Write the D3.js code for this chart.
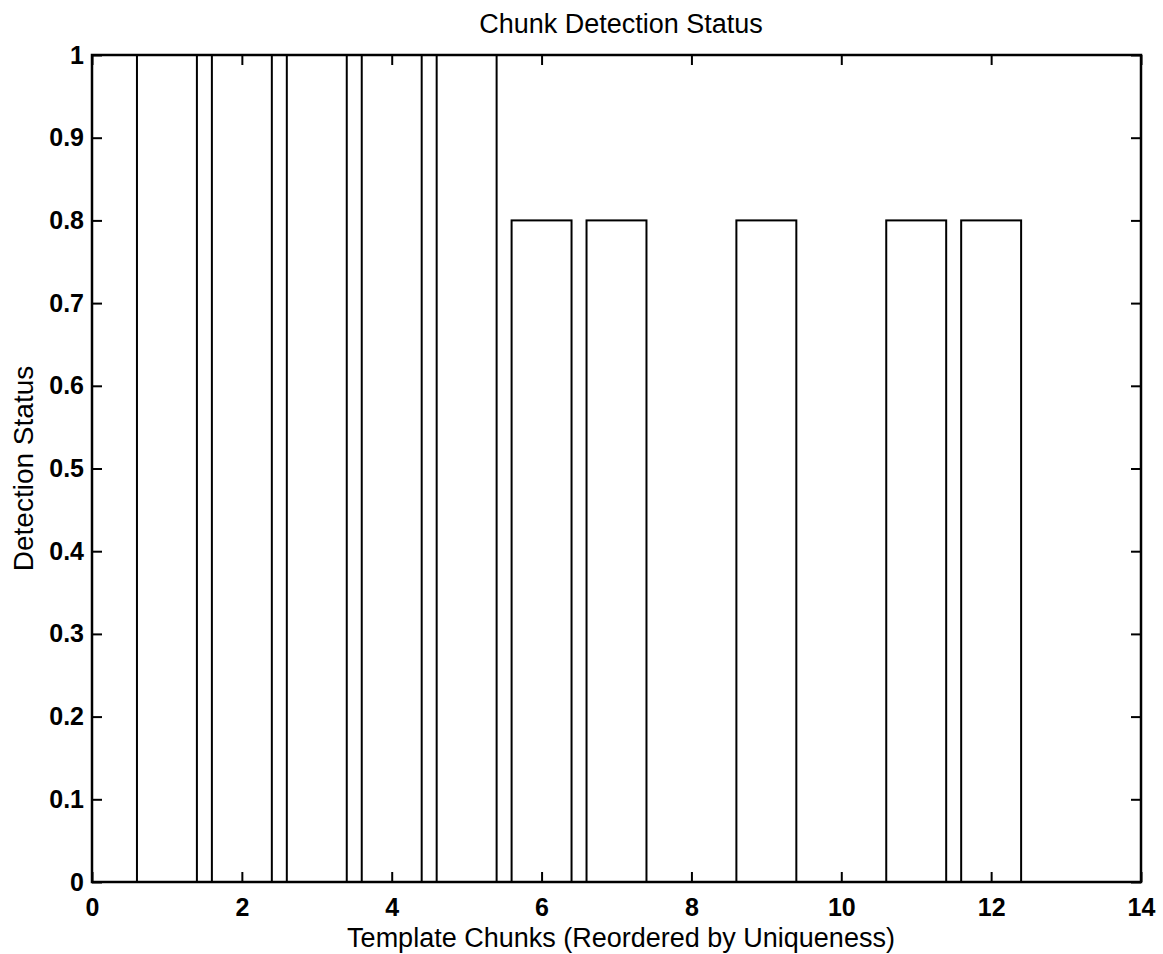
<!DOCTYPE html>
<html><head><meta charset="utf-8">
<script src="https://cdn.jsdelivr.net/npm/d3@7"></script>
<style>body{margin:0;background:#fff}svg{display:block}text{font-family:"Liberation Sans",Arial,sans-serif;fill:#000}</style>
</head><body>
<script>
const categories = [1,2,3,4,5,6,7,8,9,10,11,12];
const values = [1,1,1,1,1,0.8,0.8,0,0.8,0,0.8,0.8];
const xTicks = [0,2,4,6,8,10,12,14];
const yTicks = [0,0.1,0.2,0.3,0.4,0.5,0.6,0.7,0.8,0.9,1];
const barWidth = 0.8;

const W=1163,H=954;
const L=92,R=1141,T=55,B=882;
const svg=d3.select("body").append("svg").attr("width",W).attr("height",H);
const x=d3.scaleLinear().domain([0,14]).range([L,R]);
const y=d3.scaleLinear().domain([0,1]).range([B,T]);

svg.append("g").selectAll("rect").data(categories).join("rect")
  .attr("x",(d)=>x(d-barWidth/2)).attr("width",(d)=>x(d+barWidth/2)-x(d-barWidth/2))
  .attr("y",(d,i)=>y(values[i])).attr("height",(d,i)=>y(0)-y(values[i]))
  .attr("fill","#fff").attr("stroke","#000").attr("stroke-width",2);

const tl=10;
const fmt=d=>d===0?"0":(d===1?"1":d3.format(".1f")(d));
const gx=svg.append("g").attr("transform",`translate(0,${B})`).call(d3.axisBottom(x).tickValues(xTicks).tickSize(-tl).tickPadding(16).tickFormat(d3.format("d")));
const gxt=svg.append("g").attr("transform",`translate(0,${T})`).call(d3.axisTop(x).tickValues(xTicks).tickSize(-tl).tickFormat(""));
const gy=svg.append("g").attr("transform",`translate(${L},0)`).call(d3.axisLeft(y).tickValues(yTicks).tickSize(-tl).tickPadding(8).tickFormat(fmt));
const gyr=svg.append("g").attr("transform",`translate(${R},0)`).call(d3.axisRight(y).tickValues(yTicks).tickSize(-tl).tickFormat(""));
[gx,gxt,gy,gyr].forEach(g=>{g.select(".domain").remove();g.selectAll("line").attr("stroke","#000").attr("stroke-width",2);});
[gx,gy].forEach(g=>g.selectAll("text").style("font-size","25px").style("font-weight","bold").attr("fill","#000"));

svg.append("rect").attr("x",L).attr("y",T).attr("width",R-L).attr("height",B-T).attr("fill","none").attr("stroke","#000").attr("stroke-width",2.5);

svg.append("text").attr("x",621).attr("y",33).attr("text-anchor","middle").style("font-size","27px").text("Chunk Detection Status");
svg.append("text").attr("x",621).attr("y",947).attr("text-anchor","middle").style("font-size","27px").text("Template Chunks (Reordered by Uniqueness)");
svg.append("text").attr("transform",`translate(33,${(T+B)/2}) rotate(-90)`).attr("text-anchor","middle").style("font-size","28px").text("Detection Status");
</script>
</body></html>
